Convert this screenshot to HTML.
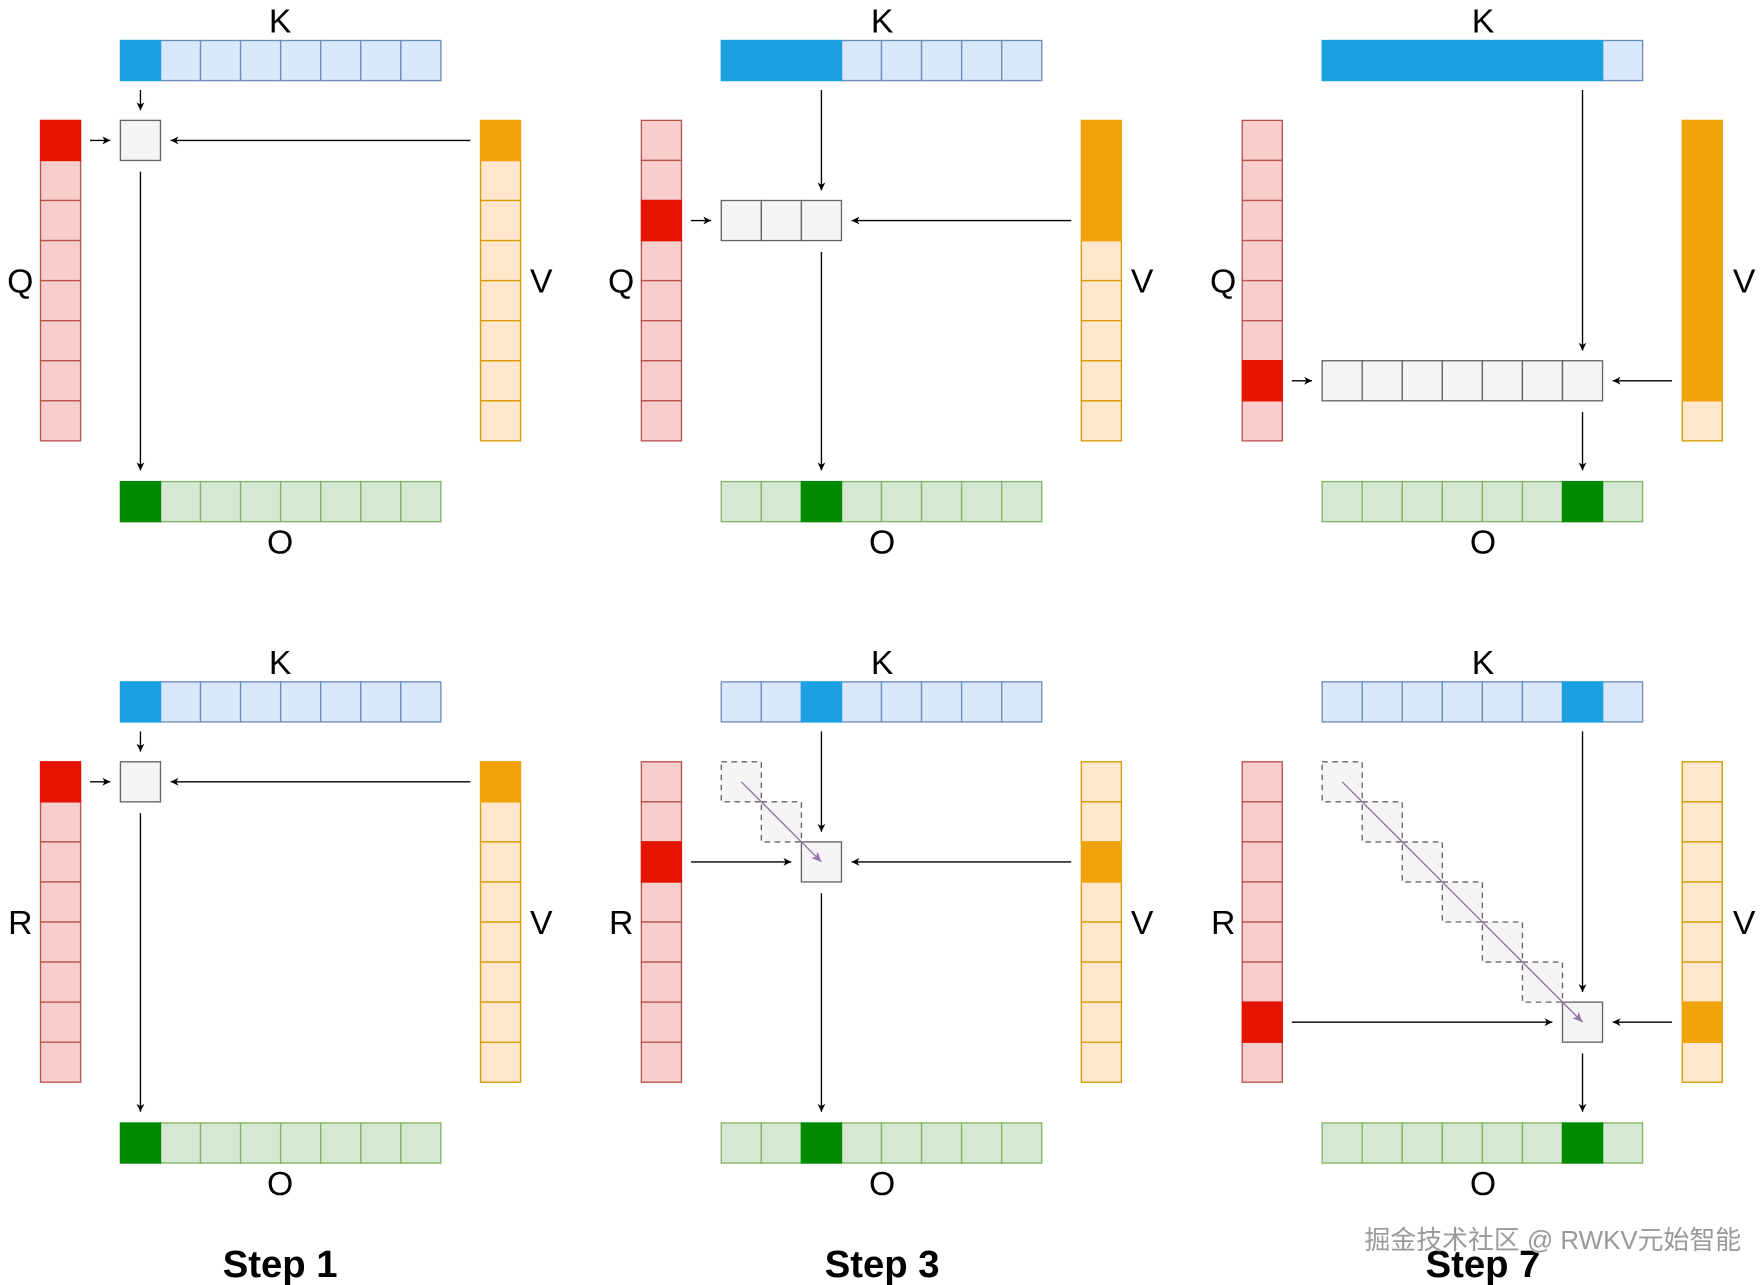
<!DOCTYPE html>
<html><head><meta charset="utf-8"><style>
html,body{margin:0;padding:0;background:#fff;width:1761px;height:1285px;overflow:hidden}
svg{display:block}
text{font-family:"Liberation Sans","Noto Sans CJK SC",sans-serif}
</style></head><body>
<svg id="s" width="1761" height="1285" viewBox="0 0 1565 1142" xmlns="http://www.w3.org/2000/svg">
<defs>
<marker id="a" markerWidth="8" markerHeight="8" refX="7" refY="4" orient="auto" markerUnits="userSpaceOnUse"><path d="M0,0.5 L7,4 L0,7.5 L2,4 Z" fill="#000"/></marker>
<marker id="p" markerWidth="10" markerHeight="10" refX="9" refY="5" orient="auto" markerUnits="userSpaceOnUse"><path d="M0,1 L9,5 L0,9 L2.5,5 Z" fill="#9673a6"/></marker>
</defs>
<g id="g"></g>
<g font-size="30" text-anchor="middle" fill="#000">
<text x="249" y="29">K</text><text x="784" y="29">K</text><text x="1318" y="29">K</text>
<text x="249" y="599">K</text><text x="784" y="599">K</text><text x="1318" y="599">K</text>
<text x="18" y="260">Q</text><text x="552" y="260">Q</text><text x="1087" y="260">Q</text>
<text x="18" y="830">R</text><text x="552" y="830">R</text><text x="1087" y="830">R</text>
<text x="481" y="260">V</text><text x="1015" y="260">V</text><text x="1550" y="260">V</text>
<text x="481" y="830">V</text><text x="1015" y="830">V</text><text x="1550" y="830">V</text>
<text x="249" y="492">O</text><text x="784" y="492">O</text><text x="1318" y="492">O</text>
<text x="249" y="1062">O</text><text x="784" y="1062">O</text><text x="1318" y="1062">O</text>
</g>
<g font-size="34" font-weight="bold" text-anchor="middle">
<text x="249" y="1135">Step 1</text><text x="784" y="1135">Step 3</text><text x="1318" y="1135">Step 7</text>
</g>
<text x="1380" y="1110" font-size="23" text-anchor="middle" fill="#999" stroke="#fff" stroke-width="0.8" paint-order="stroke">掘金技术社区 @ RWKV元始智能</text>
</svg>
<script>
var g=document.getElementById('g'),N='http://www.w3.org/2000/svg',C=35.6;
function R(x,y,w,h,f,s,d){var r=document.createElementNS(N,'rect');r.setAttribute('x',x);r.setAttribute('y',y);r.setAttribute('width',w);r.setAttribute('height',h);r.setAttribute('fill',f);r.setAttribute('stroke',s);r.setAttribute('stroke-width',1.2);if(d)r.setAttribute('stroke-dasharray','5,4');g.appendChild(r);}
function L(x1,y1,x2,y2,c,m){var l=document.createElementNS(N,'line');l.setAttribute('x1',x1);l.setAttribute('y1',y1);l.setAttribute('x2',x2);l.setAttribute('y2',y2);l.setAttribute('stroke',c||'#000');l.setAttribute('stroke-width',1.2);l.setAttribute('marker-end','url(#'+(m||'a')+')');g.appendChild(l);}
/* a..b active range inclusive */
function hbar(x,y,a,b,f,lf,s){for(var i=0;i<8;i++)if(i<a||i>b)R(x+i*C,y,C,C,lf,s);R(x+a*C,y,(b-a+1)*C,C,f,f);}
function vbar(x,y,a,b,f,lf,s){for(var i=0;i<8;i++)if(i<a||i>b)R(x,y+i*C,C,C,lf,s);R(x,y+a*C,C,(b-a+1)*C,f,f);}
function panel(ox,oy,k,diag){
 var kx=107+ox,ky=36+oy,qy=107+oy;
 hbar(kx,ky,diag?k:0,k,'#1ba1e2','#dae8fc','#6c8ebf');
 vbar(36+ox,qy,k,k,'#e51400','#f8cecc','#b85450');
 vbar(427+ox,qy,diag?k:0,k,'#f0a30a','#ffe6cc','#d79b00');
 hbar(kx,428+oy,k,k,'#008a00','#d5e8d4','#82b366');
 var cx=kx+k*C+C/2,cy=qy+k*C+C/2;
 if(!diag){for(var i=0;i<=k;i++)R(kx+i*C,qy+k*C,C,C,'#f5f5f5','#666');}
 else{for(var i=0;i<k;i++)R(kx+i*C,qy+i*C,C,C,'#f5f5f5','#666',1);R(kx+k*C,qy+k*C,C,C,'#f5f5f5','#666');}
 var top=qy+k*C,bot=top+C;
 L(cx,80+oy,cx,top-9);
 L(80+ox,cy,kx+(diag?k*C:0)-9,cy);
 L(418+ox,cy,kx+(k+1)*C+9,cy);
 L(cx,bot+10,cx,418+oy);
 if(diag&&k>0)L(kx+C/2,qy+C/2,cx,cy,'#9673a6','p');
}
panel(0,0,0,false);panel(534,0,2,false);panel(1068,0,6,false);
panel(0,570,0,true);panel(534,570,2,true);panel(1068,570,6,true);
</script>
</body></html>
